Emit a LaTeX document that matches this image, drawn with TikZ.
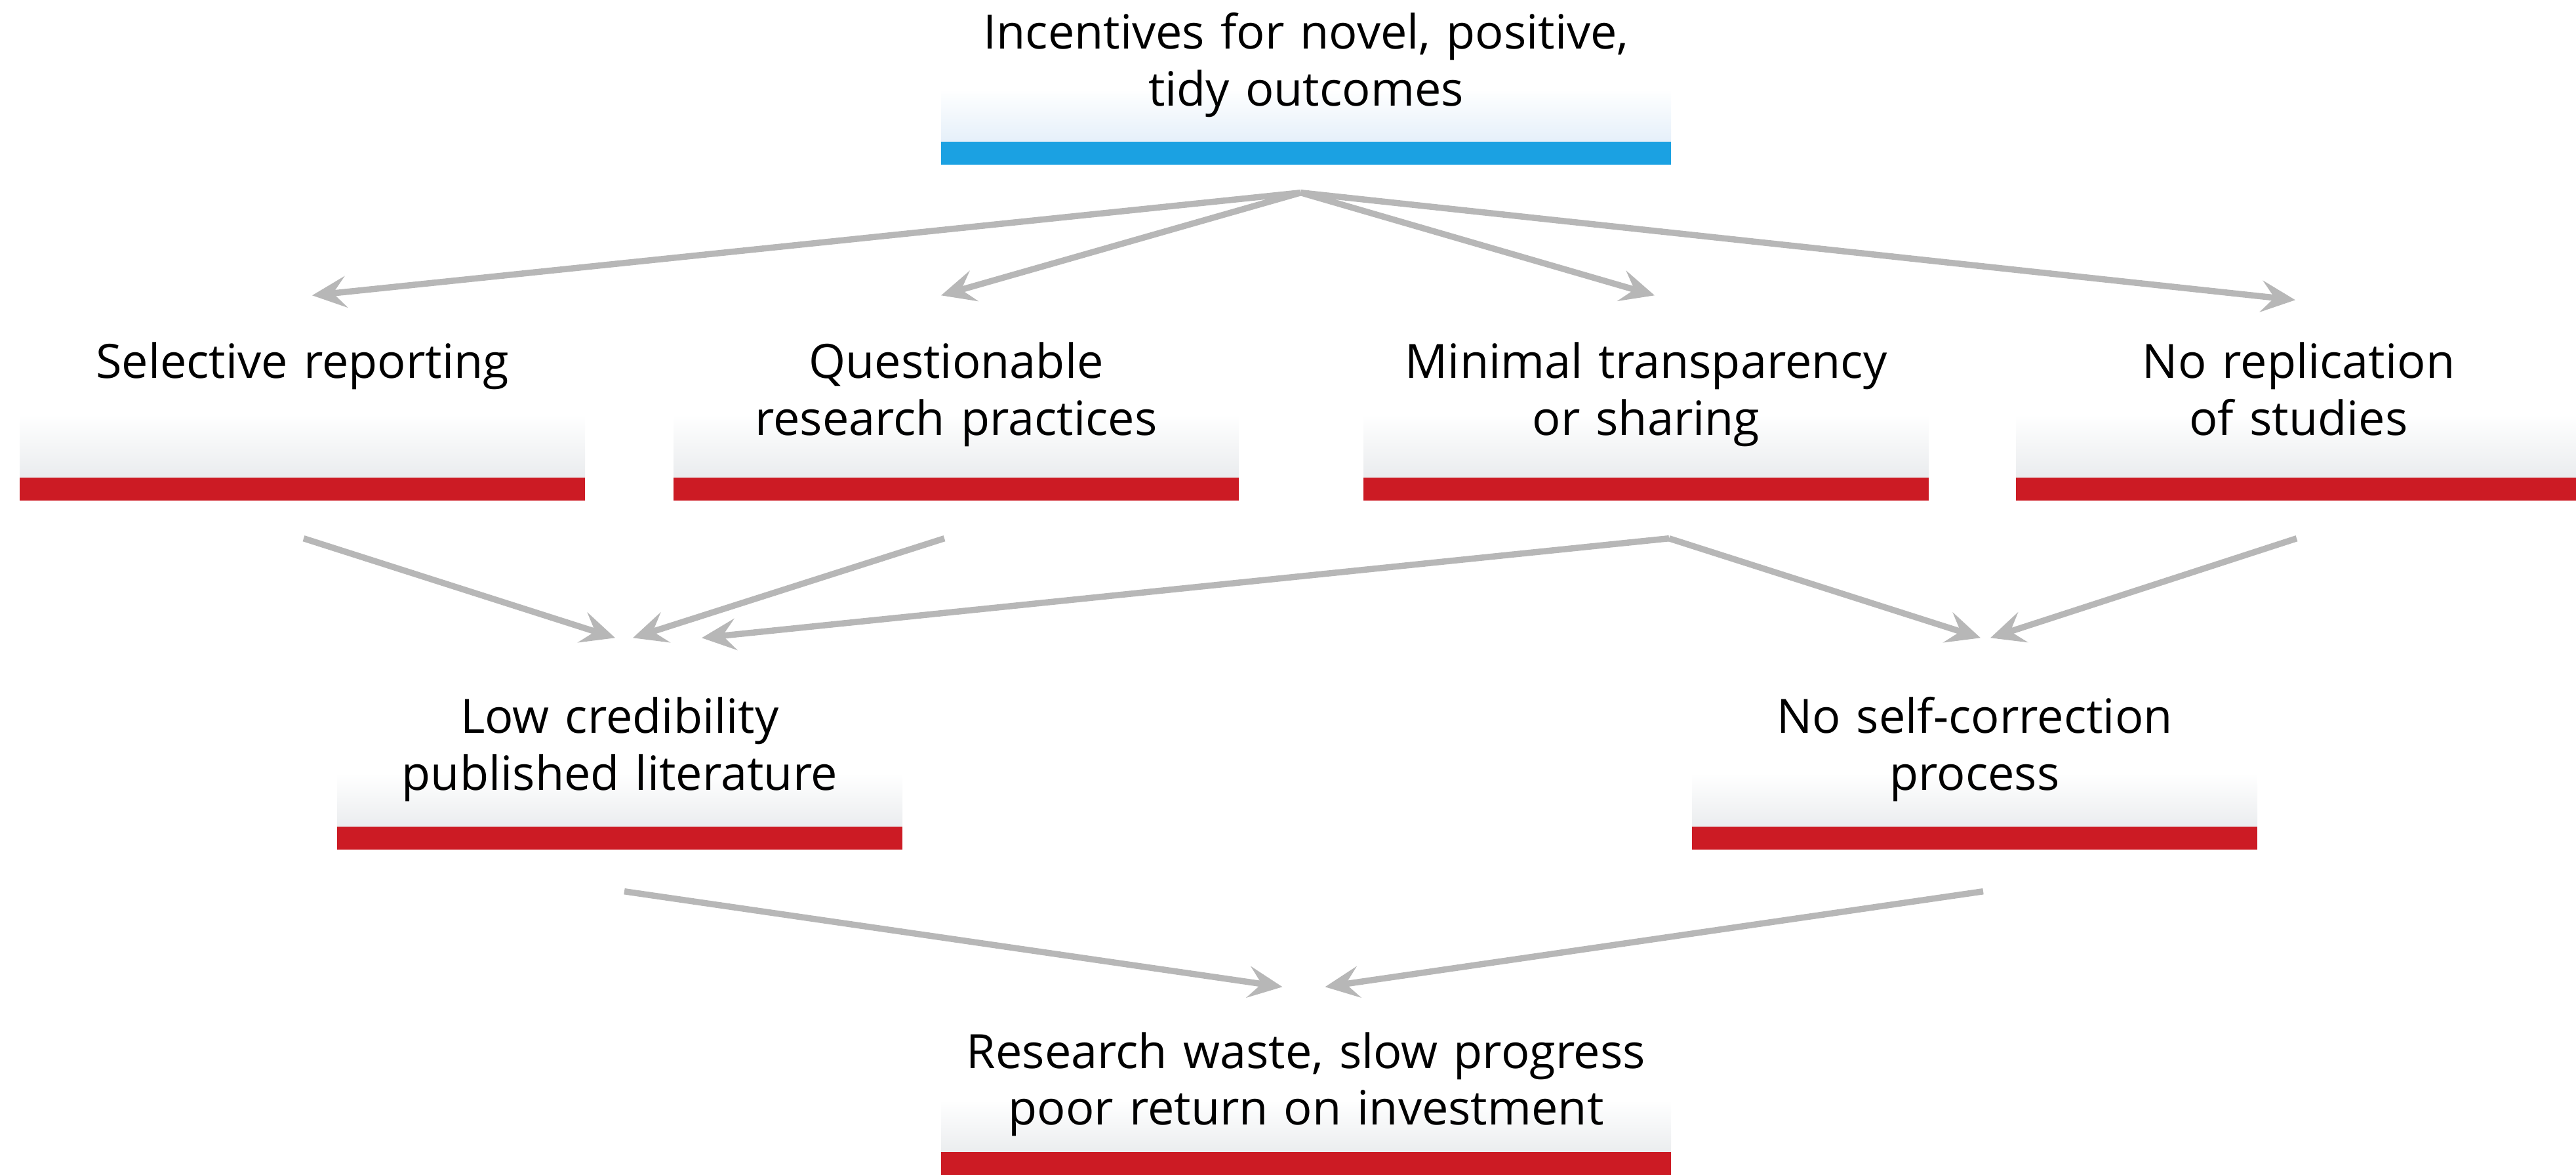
\documentclass[tikz,border=0pt]{standalone}
\usepackage{fontspec}
\setmainfont{Open Sans}
\usepackage{tikz}
\usetikzlibrary{arrows.meta}
\definecolor{barred}{RGB}{204,27,36}
\definecolor{barblue}{RGB}{27,161,226}
\definecolor{shadegray}{RGB}{226,229,232}
\definecolor{shadeblue}{RGB}{218,233,247}
\definecolor{linkgray}{RGB}{183,183,183}
\tikzset{%
    box/.style={%
        text width=8.62cm, align=center, inner sep=0pt, anchor=base,
        font=\fontsize{20.5}{24.7}\selectfont,
        top color=white, bottom color=shadegray, middle color=white,
        path picture={\fill[#1] (path picture bounding box.south west)
            rectangle ([yshift=3.5mm]path picture bounding box.south east);}
    },
    box/.default=barred,
    wide/.style={text width=11.13cm},
    toprow/.style={text height=5.5mm, text depth=17.6mm},
    midrow/.style={text height=7.7mm, text depth=18.6mm},
    lowrow/.style={text height=5.6mm, text depth=17.7mm},
    endrow/.style={text height=6.5mm, text depth=16.3mm},
    link/.style={draw=linkgray, line width=2.7pt,
        -{Stealth[length=5.2mm,width=4.8mm,inset=2mm]}}
}

\begin{document}
\begin{tikzpicture}
    \useasboundingbox (0,0) rectangle (39.28,-17.91);
    \node[box=barblue, wide, toprow, bottom color=shadeblue, middle color=white] (inc) at (19.915,-0.75)
        {Incentives for novel, positive,\\ tidy outcomes};
    \node[box, midrow] (sel) at (4.61,-5.77) {Selective reporting};
    \node[box, midrow] (qrp) at (14.58,-5.77) {Questionable\\ research practices};
    \node[box, midrow] (min) at (25.10,-5.77) {Minimal transparency\\ or sharing};
    \node[box, midrow] (norep) at (35.05,-5.77) {No replication\\ of studies};
    \node[box, lowrow] (low) at (9.45,-11.18) {Low credibility\\ published literature};
    \node[box, lowrow] (noself) at (30.11,-11.18) {No self-correction\\ process};
    \node[box, wide, endrow] (res) at (19.915,-16.28)
        {Research waste, slow progress\\ poor return on investment};

    \coordinate (incout) at ([xshift=-0.8mm,yshift=-4.2mm]inc.south);
    \coordinate (selin) at ([xshift=1.5mm,yshift=4.9mm]sel.north);
    \coordinate (qrpin) at ([xshift=-2.3mm,yshift=4.9mm]qrp.north);
    \coordinate (minin) at ([xshift=1.3mm,yshift=4.9mm]min.north);
    \coordinate (norepin) at ([xshift=-0.5mm,yshift=4.2mm]norep.north);
    \coordinate (selout) at ([xshift=0.2mm,yshift=-5.7mm]sel.south);
    \coordinate (qrpout) at ([xshift=-1.8mm,yshift=-5.7mm]qrp.south);
    \coordinate (minout) at ([xshift=3.5mm,yshift=-5.7mm]min.south);
    \coordinate (norepout) at ([xshift=-0.3mm,yshift=-5.7mm]norep.south);
    \coordinate (lowinA) at ([xshift=-0.7mm,yshift=8.9mm]low.north);
    \coordinate (lowinB) at ([xshift=2mm,yshift=8.9mm]low.north);
    \coordinate (lowinC) at ([xshift=12.5mm,yshift=8.9mm]low.north);
    \coordinate (noselfinA) at ([xshift=0.9mm,yshift=8.9mm]noself.north);
    \coordinate (noselfinB) at ([xshift=2.4mm,yshift=8.9mm]noself.north);
    \coordinate (lowout) at ([xshift=0.7mm,yshift=-6.3mm]low.south);
    \coordinate (noselfout) at ([xshift=1.3mm,yshift=-6.3mm]noself.south);
    \coordinate (resinA) at ([xshift=-3.6mm,yshift=5.8mm]res.north);
    \coordinate (resinB) at ([xshift=2.9mm,yshift=5.8mm]res.north);

    \foreach \t in {selin,qrpin,minin,norepin}
        \draw[link] (incout) -- (\t);
    \draw[link] (selout) -- (lowinA);
    \draw[link] (qrpout) -- (lowinB);
    \draw[link] (minout) -- (lowinC);
    \draw[link] (minout) -- (noselfinA);
    \draw[link] (norepout) -- (noselfinB);
    \draw[link] (lowout) -- (resinA);
    \draw[link] (noselfout) -- (resinB);
\end{tikzpicture}
\end{document}
